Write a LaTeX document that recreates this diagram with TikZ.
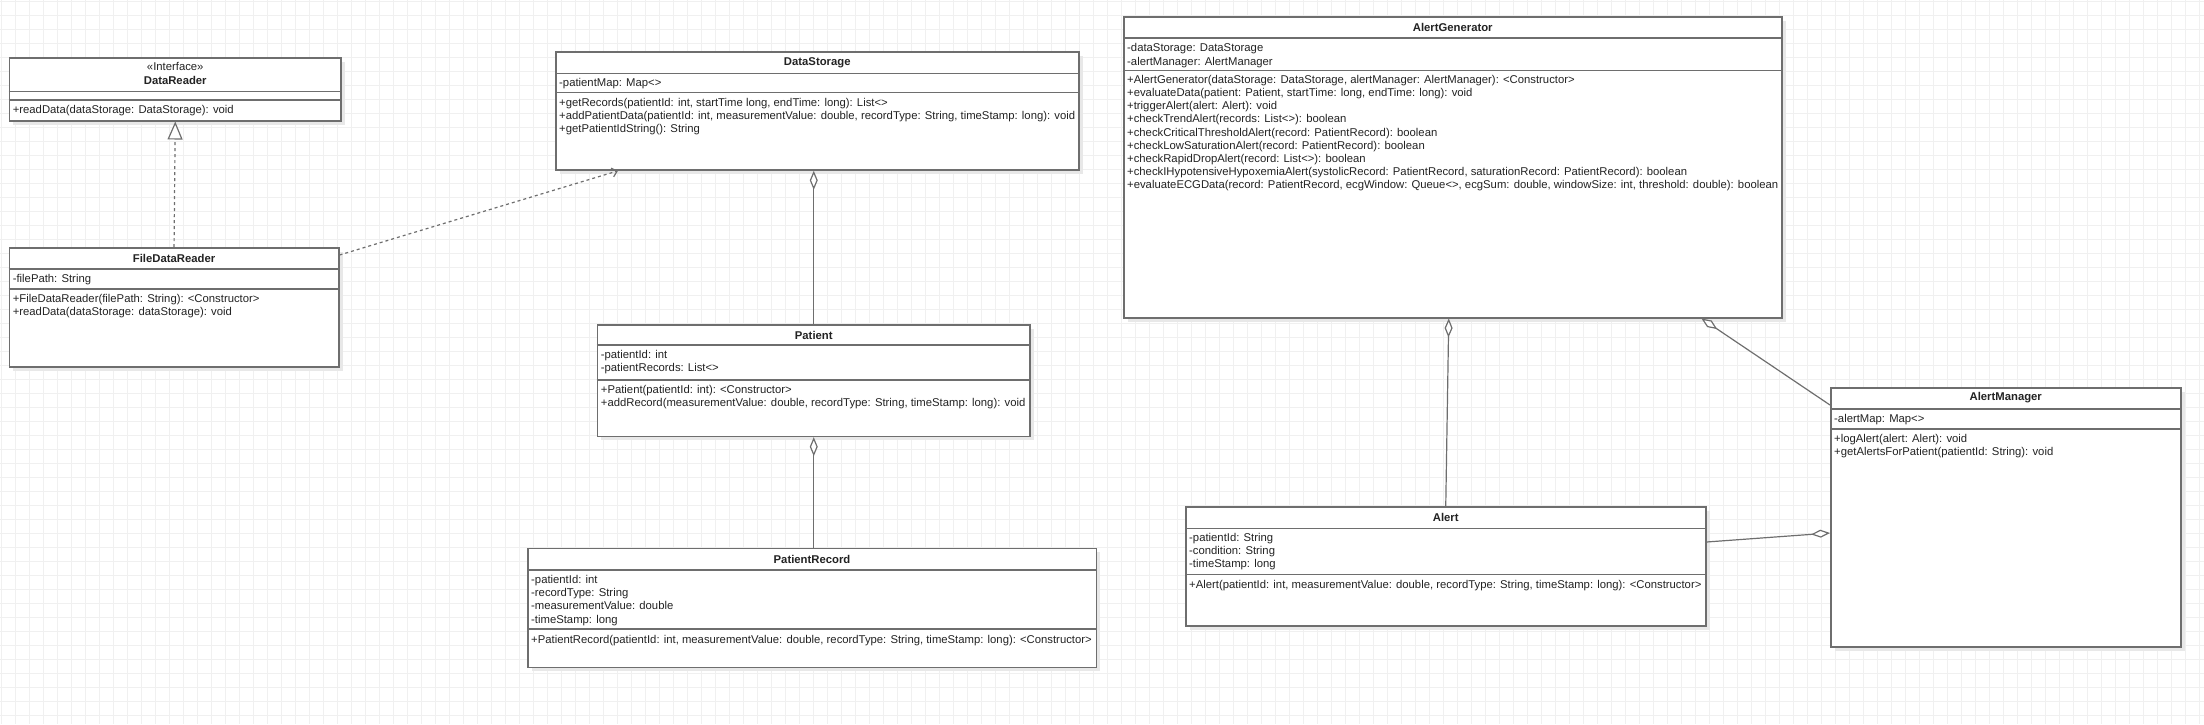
\documentclass[tikz,border=0pt]{standalone}
\usepackage{fontspec}
\setmainfont{Liberation Sans}
\usepackage{tikz}
\usetikzlibrary{calc,arrows.meta,shadows,positioning}
\definecolor{umlline}{RGB}{110,110,110}
\definecolor{umltext}{RGB}{35,35,35}
\definecolor{gridgray}{RGB}{240,240,240}
\tikzset{
	classbox/.style={
		draw=umlline, line width=1.5pt, fill=white,
		anchor=north west, inner sep=0pt,
		drop shadow={shadow xshift=4pt, shadow yshift=-4pt, fill=black!9, opacity=1}
	},
	classtitle/.style={
		inner sep=0pt, text=umltext,
		font={\fontsize{11.3}{13.2}\selectfont\bfseries}
	},
	stereo/.style={
		inner sep=0pt, text=umltext,
		font={\fontsize{11.3}{13.2}\selectfont}
	},
	members/.style={
		anchor=north west, align=left, inner sep=0pt, text=umltext,
		font={\fontsize{11.3}{13.2}\selectfont}
	},
	divider/.style={draw=umlline, line width=1.5pt},
	gridline/.style={draw=gridgray, line width=1.3pt},
	aggr/.style={draw=umlline, line width=1.2pt, -{Diamond[open, fill=white, length=19pt, width=8pt]}},
	realize/.style={draw=umlline, line width=1.2pt, dash pattern=on 3pt off 3pt,
		-{Triangle[open, fill=white, length=18pt, width=15pt]}},
	depend/.style={draw=umlline, line width=1.2pt, dash pattern=on 3pt off 3pt,
		-{Straight Barb[length=5pt, width=9pt]}}
}

\begin{document}
\begin{tikzpicture}[x=1pt, y=-1pt]
	\useasboundingbox (0,0) rectangle (2204,724);
	\foreach \gx in {1.7,15.7,...,2204} \draw[gridline] (\gx,0) -- (\gx,724);
	\foreach \gy in {1.7,15.7,...,724} \draw[gridline] (0,\gy) -- (2204,\gy);

	\node[classbox, minimum width=331.8pt, minimum height=62.7pt] (reader) at (8.6,57.3) {};
	\node[stereo] (readerstereo) at ($(reader.north)+(0,9.4)$) {«Interface»};
	\node[classtitle] (readertitle) at ($(reader.north)+(0,22.7)$) {DataReader};
	\draw[divider] ($(reader.north west)+(0,34.4)$) -- ($(reader.north east)+(0,34.4)$);
	\draw[divider] ($(reader.north west)+(0,42.7)$) -- ($(reader.north east)+(0,42.7)$);
	\node[members] (readerops) at ($(reader.north west)+(4,46.8)$) {\strut+readData(dataStorage: DataStorage): void};

	\node[classbox, minimum width=329.4pt, minimum height=119pt] (filereader) at (8.6,247) {};
	\node[classtitle] (filereadertitle) at ($(filereader.north)+(0,11)$) {FileDataReader};
	\draw[divider] ($(filereader.north west)+(0,22)$) -- ($(filereader.north east)+(0,22)$);
	\draw[divider] ($(filereader.north west)+(0,42)$) -- ($(filereader.north east)+(0,42)$);
	\node[members] (filereaderattr) at ($(filereader.north west)+(4,25.8)$) {\strut-filePath: String};
	\node[members] (filereaderops) at ($(filereader.north west)+(4,45.8)$) {\strut+FileDataReader(filePath: String): <Constructor>\\
		+readData(dataStorage: dataStorage): void};

	\node[classbox, minimum width=523pt, minimum height=118.3pt] (storage) at (555,51) {};
	\node[classtitle] (storagetitle) at ($(storage.north)+(0,11.7)$) {DataStorage};
	\draw[divider] ($(storage.north west)+(0,22.3)$) -- ($(storage.north east)+(0,22.3)$);
	\draw[divider] ($(storage.north west)+(0,41.7)$) -- ($(storage.north east)+(0,41.7)$);
	\node[members] (storageattr) at ($(storage.north west)+(4,26.1)$) {\strut-patientMap: Map<>};
	\node[members] (storageops) at ($(storage.north west)+(4,46.1)$) {\strut+getRecords(patientId: int, startTime long, endTime: long): List<>\\
		+addPatientData(patientId: int, measurementValue: double, recordType: String, timeStamp: long): void\\
		+getPatientIdString(): String};

	\node[classbox, minimum width=432.6pt, minimum height=111.7pt] (patient) at (596.7,324) {};
	\node[classtitle] (patienttitle) at ($(patient.north)+(0,11)$) {Patient};
	\draw[divider] ($(patient.north west)+(0,21)$) -- ($(patient.north east)+(0,21)$);
	\draw[divider] ($(patient.north west)+(0,56)$) -- ($(patient.north east)+(0,56)$);
	\node[members] (patientattr) at ($(patient.north west)+(4,25.1)$) {\strut-patientId: int\\
		-patientRecords: List<>};
	\node[members] (patientops) at ($(patient.north west)+(4,59.8)$) {\strut+Patient(patientId: int): <Constructor>\\
		+addRecord(measurementValue: double, recordType: String, timeStamp: long): void};

	\node[classbox, minimum width=568.5pt, minimum height=119pt] (record) at (527,547.7) {};
	\node[classtitle] (recordtitle) at ($(record.north)+(0,11.6)$) {PatientRecord};
	\draw[divider] ($(record.north west)+(0,22.3)$) -- ($(record.north east)+(0,22.3)$);
	\draw[divider] ($(record.north west)+(0,81.3)$) -- ($(record.north east)+(0,81.3)$);
	\node[members] (recordattr) at ($(record.north west)+(4,26.4)$) {\strut-patientId: int\\
		-recordType: String\\
		-measurementValue: double\\
		-timeStamp: long};
	\node[members] (recordops) at ($(record.north west)+(4,86.4)$) {\strut+PatientRecord(patientId: int, measurementValue: double, recordType: String, timeStamp: long): <Constructor>};

	\node[classbox, minimum width=658pt, minimum height=301pt] (generator) at (1123,16) {};
	\node[classtitle] (generatortitle) at ($(generator.north)+(0,11)$) {AlertGenerator};
	\draw[divider] ($(generator.north west)+(0,22)$) -- ($(generator.north east)+(0,22)$);
	\draw[divider] ($(generator.north west)+(0,54.7)$) -- ($(generator.north east)+(0,54.7)$);
	\node[members] (generatorattr) at ($(generator.north west)+(4,26.5)$) {\strut-dataStorage: DataStorage\\
		-alertManager: AlertManager};
	\node[members] (generatorops) at ($(generator.north west)+(4,57.8)$) {\strut+AlertGenerator(dataStorage: DataStorage, alertManager: AlertManager): <Constructor>\\
		+evaluateData(patient: Patient, startTime: long, endTime: long): void\\
		+triggerAlert(alert: Alert): void\\
		+checkTrendAlert(records: List<>): boolean\\
		+checkCriticalThresholdAlert(record: PatientRecord): boolean\\
		+checkLowSaturationAlert(record: PatientRecord): boolean\\
		+checkRapidDropAlert(record: List<>): boolean\\
		+checkIHypotensiveHypoxemiaAlert(systolicRecord: PatientRecord, saturationRecord: PatientRecord): boolean\\
		+evaluateECGData(record: PatientRecord, ecgWindow: Queue<>, ecgSum: double, windowSize: int, threshold: double): boolean};

	\node[classbox, minimum width=350pt, minimum height=259pt] (manager) at (1830,387) {};
	\node[classtitle] (managertitle) at ($(manager.north)+(0,11)$) {AlertManager};
	\draw[divider] ($(manager.north west)+(0,22)$) -- ($(manager.north east)+(0,22)$);
	\draw[divider] ($(manager.north west)+(0,42)$) -- ($(manager.north east)+(0,42)$);
	\node[members] (managerattr) at ($(manager.north west)+(4,26.1)$) {\strut-alertMap: Map<>};
	\node[members] (managerops) at ($(manager.north west)+(4,46.1)$) {\strut+logAlert(alert: Alert): void\\
		+getAlertsForPatient(patientId: String): void};

	\node[classbox, minimum width=520pt, minimum height=119pt] (alert) at (1185,506) {};
	\node[classtitle] (alerttitle) at ($(alert.north)+(0,11.7)$) {Alert};
	\draw[divider] ($(alert.north west)+(0,22.3)$) -- ($(alert.north east)+(0,22.3)$);
	\draw[divider] ($(alert.north west)+(0,68.3)$) -- ($(alert.north east)+(0,68.3)$);
	\node[members] (alertattr) at ($(alert.north west)+(4,26.1)$) {\strut-patientId: String\\
		-condition: String\\
		-timeStamp: long};
	\node[members] (alertops) at ($(alert.north west)+(4,73.1)$) {\strut+Alert(patientId: int, measurementValue: double, recordType: String, timeStamp: long): <Constructor>};

	\draw[realize] (filereader.north) -- (reader.south);
	\draw[depend] ($(filereader.north east)+(0,8)$) -- ($(storage.south west)+(63,0)$);
	\draw[aggr] (patient.north) -- (patient.north |- storage.south);
	\draw[aggr] (patient.south |- record.north) -- (patient.south);
	\draw[aggr] (alert.north) -- ($(generator.south)+(-4,0)$);
	\draw[aggr] ($(manager.north west)+(0,18)$) -- ($(generator.south east)+(-81,0)$);
	\draw[aggr] ($(alert.north east)+(0,36)$) -- ($(manager.north west)+(0,146)$);
\end{tikzpicture}
\end{document}
